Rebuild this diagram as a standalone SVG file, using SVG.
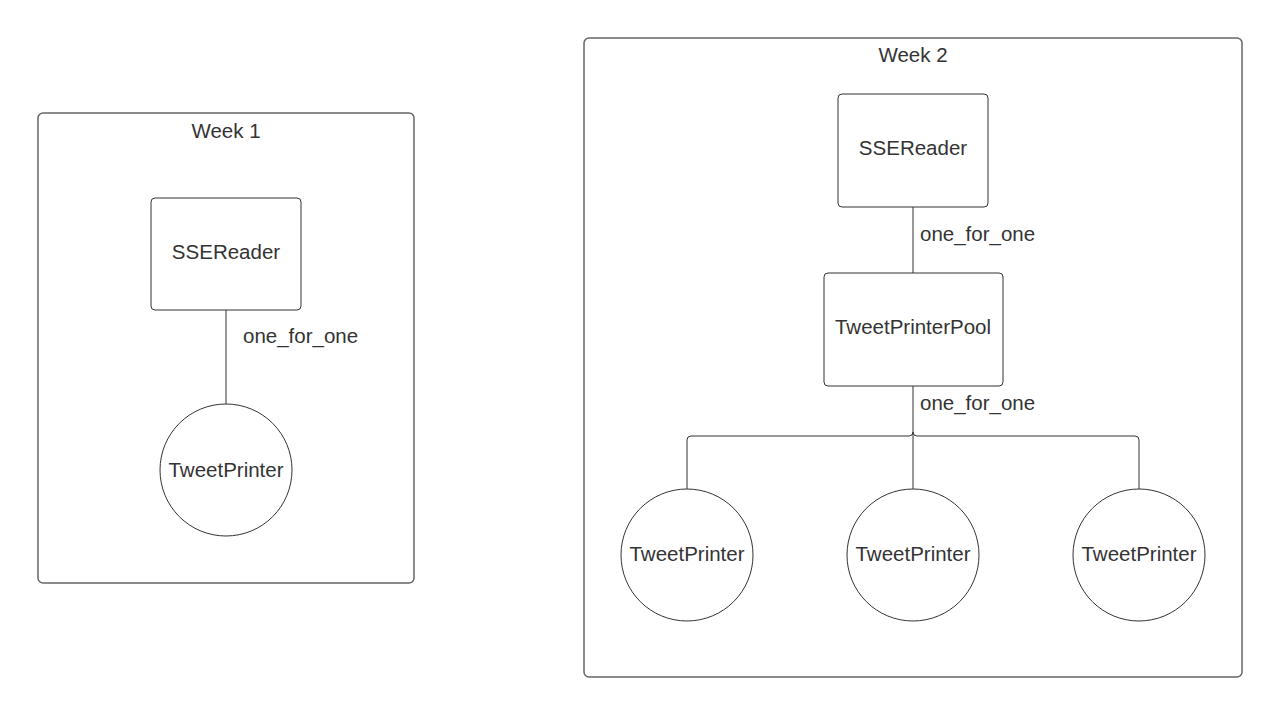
<svg xmlns="http://www.w3.org/2000/svg" width="1280" height="715" viewBox="0 0 1280 715">
<style>
.frame{fill:#fff;stroke:#666;stroke-width:1.5}
.node{fill:#fff;stroke:#333;stroke-width:1}
.edge{fill:none;stroke:#333;stroke-width:1}
text{font-family:"Liberation Sans",Arial,sans-serif;font-size:20.5px;fill:#333}
.c{text-anchor:middle}
</style>
<rect width="1280" height="715" fill="#fff"/>
<g id="week1">
<rect class="frame" x="38" y="113" width="376" height="470" rx="5"/>
<text class="c" x="226" y="138">Week 1</text>
</g>
<g id="week2">
<rect class="frame" x="584" y="38" width="658" height="639" rx="5"/>
<text class="c" x="913" y="62">Week 2</text>
</g>
<g id="connectors">
<line class="edge" x1="226" y1="310" x2="226" y2="405"/>
<text x="243" y="343">one_for_one</text>
<line class="edge" x1="913" y1="207" x2="913" y2="273"/>
<text x="920" y="241">one_for_one</text>
<line class="edge" x1="913" y1="386" x2="913" y2="489"/>
<text x="920" y="410">one_for_one</text>
<path class="edge" d="M913 432 Q913 436 909 436 H691 Q687 436 687 440 V489"/>
<path class="edge" d="M913 432 Q913 436 917 436 H1135 Q1139 436 1139 440 V489"/>
</g>
<g id="w1-ssereader">
<rect class="node" x="151" y="198" width="150" height="112" rx="4"/>
<text class="c" x="226" y="259">SSEReader</text>
</g>
<g id="w1-tweetprinter">
<circle class="node" cx="226" cy="470" r="66"/>
<text class="c" x="226" y="477">TweetPrinter</text>
</g>
<g id="w2-ssereader">
<rect class="node" x="838" y="94" width="150" height="113" rx="4"/>
<text class="c" x="913" y="155">SSEReader</text>
</g>
<g id="w2-pool">
<rect class="node" x="824" y="273" width="179" height="113" rx="4"/>
<text class="c" x="913" y="334">TweetPrinterPool</text>
</g>
<g id="w2-tp1">
<circle class="node" cx="687" cy="555" r="66"/>
<text class="c" x="687" y="561">TweetPrinter</text>
</g>
<g id="w2-tp2">
<circle class="node" cx="913" cy="555" r="66"/>
<text class="c" x="913" y="561">TweetPrinter</text>
</g>
<g id="w2-tp3">
<circle class="node" cx="1139" cy="555" r="66"/>
<text class="c" x="1139" y="561">TweetPrinter</text>
</g>
</svg>
